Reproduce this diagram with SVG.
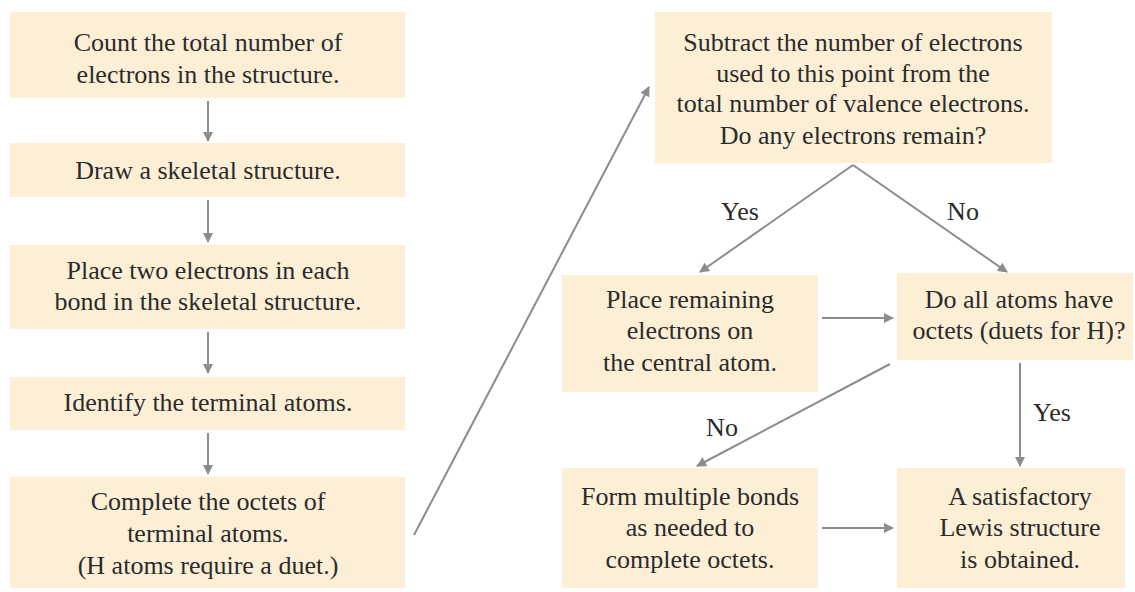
<svg xmlns="http://www.w3.org/2000/svg" width="1135" height="592" viewBox="0 0 1135 592">
<defs>
<style>
.box{fill:#fcefd5;stroke:none}
.t{font-size:26px;fill:#2b2b2b;text-anchor:middle}
.c{stroke:#8c8c8c;stroke-width:2;fill:none}
</style>
<marker id="ah" viewBox="0 0 10 10" refX="9" refY="5" markerWidth="12" markerHeight="10" markerUnits="userSpaceOnUse" orient="auto">
<path d="M0,0 L10,5 L0,10 z" fill="#8c8c8c"/>
</marker>
</defs>
<rect width="1135" height="592" fill="#ffffff"/>
<g font-family="Liberation Serif, DejaVu Serif, serif">
<g id="connectors">
<line class="c" x1="208" y1="101" x2="208" y2="141" marker-end="url(#ah)"/>
<line class="c" x1="208" y1="200" x2="208" y2="242" marker-end="url(#ah)"/>
<line class="c" x1="208" y1="332" x2="208" y2="373" marker-end="url(#ah)"/>
<line class="c" x1="208" y1="433" x2="208" y2="474" marker-end="url(#ah)"/>
<line class="c" x1="414" y1="535" x2="649" y2="87" marker-end="url(#ah)"/>
<line class="c" x1="853" y1="165" x2="700" y2="272" marker-end="url(#ah)"/>
<line class="c" x1="853" y1="165" x2="1007" y2="272" marker-end="url(#ah)"/>
<line class="c" x1="822" y1="318" x2="893" y2="318" marker-end="url(#ah)"/>
<line class="c" x1="822" y1="528" x2="893" y2="528" marker-end="url(#ah)"/>
<line class="c" x1="1020" y1="363" x2="1020" y2="466" marker-end="url(#ah)"/>
<line class="c" x1="890" y1="364" x2="697" y2="466" marker-end="url(#ah)"/>
<text class="t" x="740" y="220">Yes</text>
<text class="t" x="963" y="220">No</text>
<text class="t" x="722" y="436">No</text>
<text class="t" x="1052" y="421">Yes</text>
</g>
<g id="n1"><rect class="box" x="10" y="12" width="395" height="86"/>
<text class="t" x="208" y="51">Count the total number of</text>
<text class="t" x="208" y="83">electrons in the structure.</text></g>
<g id="n2"><rect class="box" x="10" y="143" width="395" height="54"/>
<text class="t" x="208" y="179">Draw a skeletal structure.</text></g>
<g id="n3"><rect class="box" x="10" y="245" width="395" height="84"/>
<text class="t" x="208" y="279">Place two electrons in each</text>
<text class="t" x="208" y="310">bond in the skeletal structure.</text></g>
<g id="n4"><rect class="box" x="10" y="377" width="395" height="53"/>
<text class="t" x="208" y="411">Identify the terminal atoms.</text></g>
<g id="n5"><rect class="box" x="10" y="477" width="395" height="111"/>
<text class="t" x="208" y="510">Complete the octets of</text>
<text class="t" x="208" y="542">terminal atoms.</text>
<text class="t" x="208" y="574">(H atoms require a duet.)</text></g>
<g id="n6"><rect class="box" x="655" y="12" width="397" height="151"/>
<text class="t" x="853" y="51">Subtract the number of electrons</text>
<text class="t" x="853" y="82">used to this point from the</text>
<text class="t" x="853" y="112">total number of valence electrons.</text>
<text class="t" x="853" y="144">Do any electrons remain?</text></g>
<g id="n7"><rect class="box" x="562" y="275" width="256" height="117"/>
<text class="t" x="690" y="308">Place remaining</text>
<text class="t" x="690" y="339">electrons on</text>
<text class="t" x="690" y="371">the central atom.</text></g>
<g id="n8"><rect class="box" x="897" y="273" width="236" height="87"/>
<text class="t" x="1019" y="308">Do all atoms have</text>
<text class="t" x="1019" y="339">octets (duets for H)?</text></g>
<g id="n9"><rect class="box" x="562" y="468" width="256" height="120"/>
<text class="t" x="690" y="505">Form multiple bonds</text>
<text class="t" x="690" y="536">as needed to</text>
<text class="t" x="690" y="568">complete octets.</text></g>
<g id="n10"><rect class="box" x="897" y="468" width="228" height="120"/>
<text class="t" x="1020" y="505">A satisfactory</text>
<text class="t" x="1020" y="536">Lewis structure</text>
<text class="t" x="1020" y="568">is obtained.</text></g>
</g>
</svg>
